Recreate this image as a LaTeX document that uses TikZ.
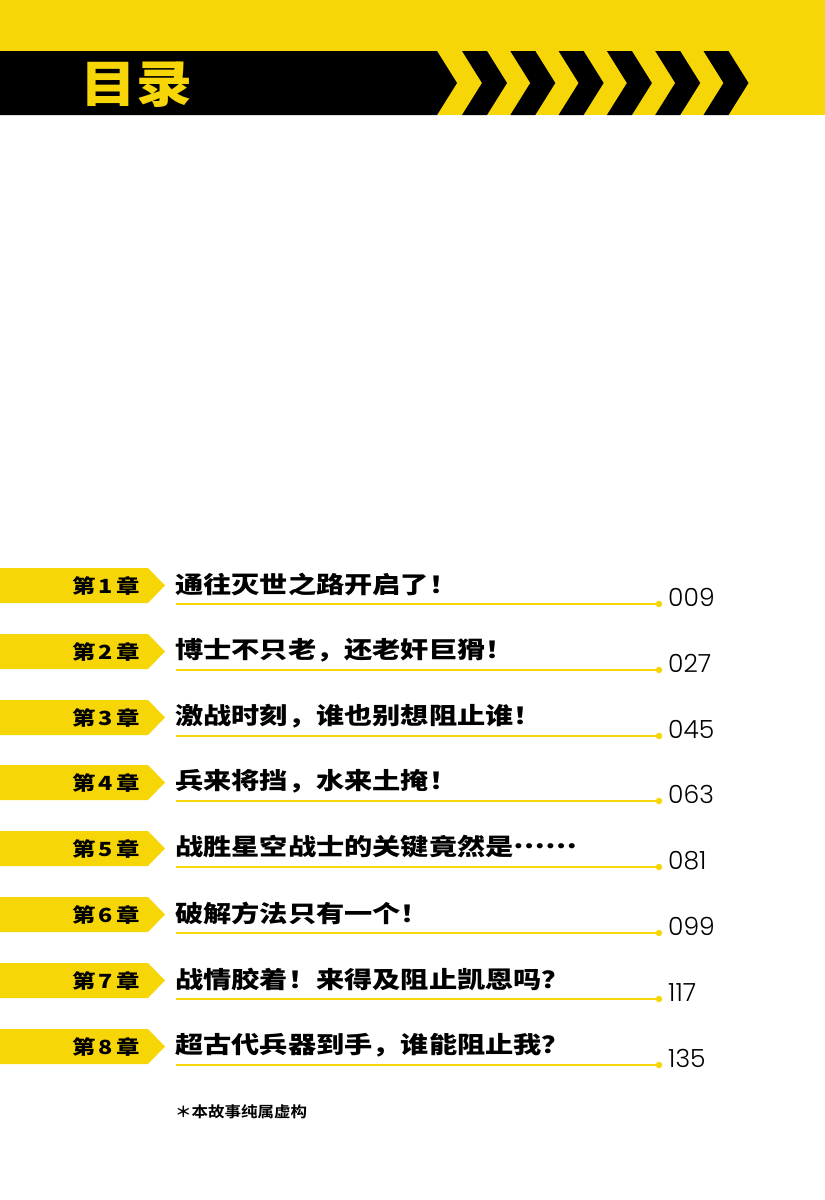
\documentclass[tikz,border=0pt]{standalone}
\usepackage{fontspec}
\usepackage{xcolor}
\usepackage{tikz}
\usetikzlibrary{positioning}
\newfontfamily\cjkheavy{Noto Sans CJK SC Black}[FakeStretch=1.12]
\newfontfamily\cjkwide{Noto Sans CJK SC Black}[FakeStretch=1.2]
\newfontfamily\cjkmid{Noto Sans CJK SC Bold}[FakeStretch=1.1]
\newfontfamily\numfont{Poppins Light}
\newcommand{\midellipsis}{\raisebox{0.32em}{……}}
\definecolor{tocyellow}{RGB}{247,214,8}

\begin{document}
\begin{tikzpicture}[x=1pt, y=-1pt,
        headtext/.style={font=\cjkheavy\fontsize{50}{50}\selectfont, text=tocyellow, inner sep=0pt},
        chaplabel/.style={font=\cjkwide\fontsize{19.5}{20}\selectfont, inner sep=0pt},
        chaptitle/.style={font=\cjkwide\fontsize{23.5}{24}\selectfont, inner sep=0pt, anchor=west},
        pagenum/.style={font=\numfont\fontsize{25}{25}\selectfont, inner sep=0pt, anchor=base west},
        uline/.style={tocyellow, line width=2pt},
        enddot/.style={circle, fill=tocyellow, inner sep=0pt, minimum size=6.5pt}]
        \useasboundingbox (0,0) rectangle (825,1200);

        % header band
        \fill[tocyellow] (0,0) rectangle (825,115);
        \fill[black] (0,51) -- (437,51) -- (457,83) -- (437,115) -- (0,115) -- cycle;
        \foreach \k in {0,...,5}
            \fill[black] (462+48.3*\k,51) -- ++(25,0) -- ++(20,32) -- ++(-20,32)
                -- ++(-25,0) -- ++(20,-32) -- cycle;
        \node[headtext] (head) at (136,85) {目录};

        % chapters
        \foreach \i/\name/\page in {1/通往灭世之路开启了！/009,
                2/博士不只老，还老奸巨猾！/027,
                3/激战时刻，谁也别想阻止谁！/045,
                4/兵来将挡，水来土掩！/063,
                5/战胜星空战士的关键竟然是\midellipsis/081,
                6/破解方法只有一个！/099,
                7/战情胶着！来得及阻止凯恩吗？/117,
                8/超古代兵器到手，谁能阻止我？/135} {
            \pgfmathsetmacro\rowtop{round(568+65.8*(\i-1))}
            \fill[tocyellow] (0,\rowtop) -- ++(148,0) -- ++(17,17.5) -- ++(-17,17.5)
                -- ++(-148,0) -- cycle;
            \node[chaplabel] (lab\i) at (106,\rowtop+17.5) {第\,\i\,章};
            \node[chaptitle] (title\i) at (175,\rowtop+16) {\name};
            \coordinate (ul\i) at (176,\rowtop+36);
            \node[enddot] (dot\i) at (659,\rowtop+36) {};
            \draw[uline] (ul\i) -- (dot\i);
            \node[pagenum] (pg\i) at (668,\rowtop+38.5) {\page};
        }

        \node[font=\cjkmid\fontsize{15}{15}\selectfont, inner sep=0pt] (note) at (241,1112) {＊本故事纯属虚构};
\end{tikzpicture}
\end{document}
